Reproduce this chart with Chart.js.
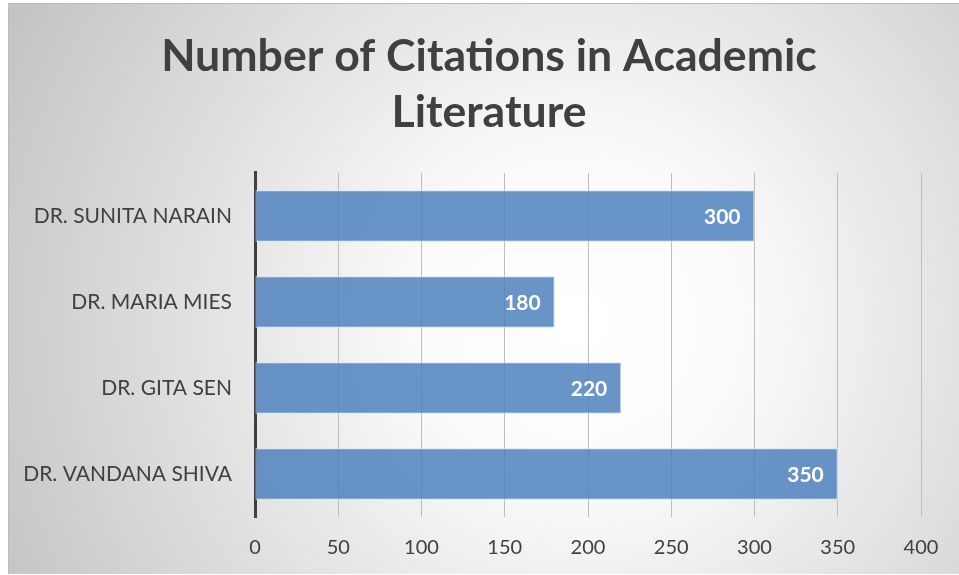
<!DOCTYPE html>
<html>
<head>
<meta charset="utf-8">
<script src="https://cdn.jsdelivr.net/npm/chart.js@4/dist/chart.umd.min.js"></script>
<style>
html,body{margin:0;padding:0;background:#fff;}
#wrap{position:absolute;left:0;top:0;width:959px;height:575px;}
</style>
</head>
<body>
<div id="wrap"><canvas id="c" width="959" height="575"></canvas></div>
<script>
const titleLines = ["Number of Citations in Academic", "Literature"];
const categories = ["DR. SUNITA NARAIN", "DR. MARIA MIES", "DR. GITA SEN", "DR. VANDANA SHIVA"];
const citations = [300, 180, 220, 350];
const xTicksMin = 0, xTicksMax = 400, xTickStep = 50;

const FONT = "Lato, 'Open Sans', sans-serif";

const bgPlugin = {
  id: 'bg',
  beforeDraw(chart) {
    const ctx = chart.ctx;
    ctx.save();
    ctx.fillStyle = '#ffffff';
    ctx.fillRect(0, 0, chart.width, chart.height);
    const g = ctx.createRadialGradient(580, 320, 0, 580, 320, 640);
    g.addColorStop(0, '#ffffff');
    g.addColorStop(0.25, '#fbfbfb');
    g.addColorStop(1, '#c4c4c4');
    ctx.fillStyle = g;
    ctx.fillRect(8, 3, chart.width - 8, 571);
    ctx.strokeStyle = '#bcbcbc';
    ctx.lineWidth = 1;
    ctx.beginPath();
    ctx.moveTo(8.5, 574);
    ctx.lineTo(8.5, 3.5);
    ctx.lineTo(chart.width, 3.5);
    ctx.stroke();
    ctx.restore();
  }
};

const labelPlugin = {
  id: 'barLabels',
  afterDatasetsDraw(chart) {
    const ctx = chart.ctx;
    const meta = chart.getDatasetMeta(0);
    ctx.save();
    ctx.fillStyle = '#ffffff';
    ctx.font = "bold 21px " + FONT;
    ctx.textAlign = 'right';
    ctx.textBaseline = 'middle';
    meta.data.forEach((bar, i) => {
      ctx.fillText(String(citations[i]), bar.x - 14, bar.y + 1);
    });
    ctx.restore();
  }
};

new Chart(document.getElementById('c'), {
  type: 'bar',
  data: {
    labels: categories,
    datasets: [{
      data: citations,
      backgroundColor: 'rgba(79,129,189,0.85)',
      borderColor: 'rgba(214,226,240,1)',
      borderWidth: 1,
      borderSkipped: false,
      barPercentage: 0.6,
      categoryPercentage: 1.0
    }]
  },
  options: {
    indexAxis: 'y',
    responsive: false,
    animation: false,
    devicePixelRatio: 1,
    layout: { padding: { left: 19, right: 0, top: 0, bottom: 0 } },
    plugins: {
      legend: { display: false },
      tooltip: { enabled: false },
      title: {
        display: true,
        text: titleLines,
        color: '#404040',
        font: { family: FONT, size: 44.6, weight: 'bold', lineHeight: 1.255 },
        padding: { top: 29, bottom: 32 }
      }
    },
    scales: {
      x: {
        min: xTicksMin,
        max: xTicksMax,
        ticks: {
          stepSize: xTickStep,
          color: '#404040',
          font: { family: FONT, size: 20 },
          padding: 19
        },
        grid: { color: '#bdbdbd', lineWidth: 1, drawTicks: false },
        border: { display: false },
        afterFit(scale) { scale.height = 58; }
      },
      y: {
        ticks: {
          color: '#404040',
          font: { family: FONT, size: 21 },
          padding: 23
        },
        grid: { display: false, drawTicks: false },
        border: { display: true, color: '#404040', width: 3 },
        afterFit(scale) { scale.width = 236; }
      },
      yRight: {
        position: 'right',
        axis: 'y',
        type: 'category',
        display: true,
        ticks: { display: false },
        grid: { display: false, drawTicks: false },
        border: { display: false },
        afterFit(scale) { scale.width = 38; }
      }
    }
  },
  plugins: [bgPlugin, labelPlugin]
});
</script>
</body>
</html>
